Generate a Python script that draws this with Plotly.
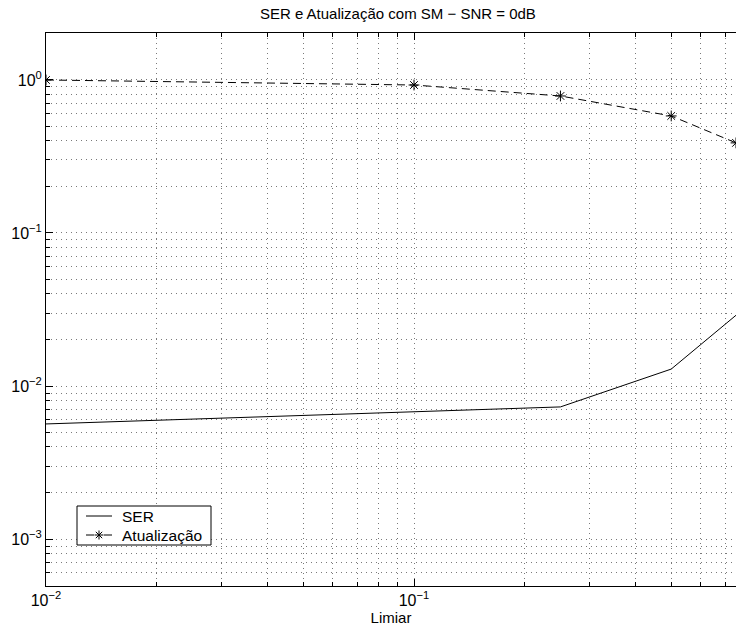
import plotly.graph_objects as go

limiar = [0.01, 0.1, 0.25, 0.5, 0.75]
ser = [0.00565, 0.0068, 0.0073, 0.0129, 0.029]
atualizacao = [1.0, 0.927, 0.786, 0.582, 0.388]
series_names = ["SER", "Atualização"]

x_major = [0.01, 0.1, 1]
x_major_text = ["10<sup>−2</sup>", "10<sup>−1</sup>", "10<sup>0</sup>"]
y_major = [0.001, 0.01, 0.1, 1]
y_major_text = ["10<sup>−3</sup>", "10<sup>−2</sup>", "10<sup>−1</sup>", "10<sup>0</sup>"]

minor_vals = [k * 10.0 ** e for e in range(-4, 1) for k in range(2, 10)]

FONT = "Liberation Sans, Arial, Helvetica, sans-serif"
GRID = "#7a7a7a"
GDASH = "1px,4px"
DASH = "8px,5px"

# plot-area geometry (pixels) used to place the hand-made legend box
PL, PW, PT, PH = 46, 690, 33, 553


def px(x):
    return (x - PL) / PW


def py(y):
    return (PT + PH - y) / PH


fig = go.Figure()
fig.add_trace(go.Scatter(
    x=limiar, y=ser, mode="lines", name=series_names[0],
    line=dict(color="black", width=1),
))
fig.add_trace(go.Scatter(
    x=limiar, y=atualizacao, mode="lines+markers", name=series_names[1],
    line=dict(color="black", width=1, dash=DASH),
    marker=dict(symbol="asterisk-open", size=9, color="black",
                line=dict(color="black", width=1)),
))

axis_common = dict(
    type="log",
    automargin=False,
    showline=True, linecolor="black", linewidth=1,
    ticks="inside", ticklen=7, tickcolor="black", tickwidth=1,
    showgrid=True, gridcolor=GRID, griddash=GDASH, gridwidth=1,
    zeroline=False,
    tickfont=dict(family=FONT, size=16, color="black"),
)

minor_common = dict(tickvals=minor_vals, ticks="inside", ticklen=4, tickcolor="black",
                    showgrid=True, gridcolor=GRID, griddash=GDASH, gridwidth=1)

fig.update_xaxes(
    **axis_common,
    range=[-2, -0.125],
    tickvals=x_major, ticktext=x_major_text,
    mirror="ticks",
    minor=minor_common,
    title=dict(text="Limiar", font=dict(family=FONT, size=15, color="black"), standoff=0),
)
fig.update_yaxes(
    **axis_common,
    range=[-3.307, 0.307],
    tickvals=y_major, ticktext=y_major_text,
    mirror=False,
    minor=minor_common,
)

# legend box drawn by hand (MATLAB-style compact legend)
shapes = [
    dict(type="rect", xref="paper", yref="paper",
         x0=px(77), x1=px(211), y0=py(545), y1=py(506),
         fillcolor="white", line=dict(color="black", width=1)),
    dict(type="line", xref="paper", yref="paper",
         x0=px(86), x1=px(112), y0=py(516), y1=py(516),
         line=dict(color="black", width=1)),
    dict(type="line", xref="paper", yref="paper",
         x0=px(86), x1=px(94), y0=py(535), y1=py(535),
         line=dict(color="black", width=1)),
    dict(type="line", xref="paper", yref="paper",
         x0=px(104), x1=px(112), y0=py(535), y1=py(535),
         line=dict(color="black", width=1)),
]
cx, cy, r, d = 99, 535, 4.5, 3.2
for (dx, dy) in [(r, 0), (0, r), (d, d), (d, -d)]:
    shapes.append(dict(type="line", xref="paper", yref="paper",
                       x0=px(cx - dx), x1=px(cx + dx), y0=py(cy - dy), y1=py(cy + dy),
                       line=dict(color="black", width=1)))

annotations = [
    dict(text=series_names[0], xref="paper", yref="paper", x=px(120), y=py(516),
         xanchor="left", yanchor="middle", showarrow=False,
         font=dict(family=FONT, size=15.5, color="black")),
    dict(text=series_names[1], xref="paper", yref="paper", x=px(120), y=py(535),
         xanchor="left", yanchor="middle", showarrow=False,
         font=dict(family=FONT, size=15.5, color="black")),
]

fig.update_layout(
    width=736, height=633,
    margin=dict(l=46, r=0, t=33, b=47, autoexpand=False),
    paper_bgcolor="white", plot_bgcolor="white",
    font=dict(family=FONT, size=15, color="black"),
    title=dict(text="SER e Atualização com SM − SNR = 0dB", x=0.51, xref="paper",
               xanchor="center", y=1 - 14 / 633, yanchor="middle",
               font=dict(family=FONT, size=15, color="black")),
    showlegend=False,
    shapes=shapes,
    annotations=annotations,
)

fig.write_html(
    "out.html",
    config={"displayModeBar": False},
    post_script="document.body.style.margin='0';document.body.style.overflow='hidden';",
)
